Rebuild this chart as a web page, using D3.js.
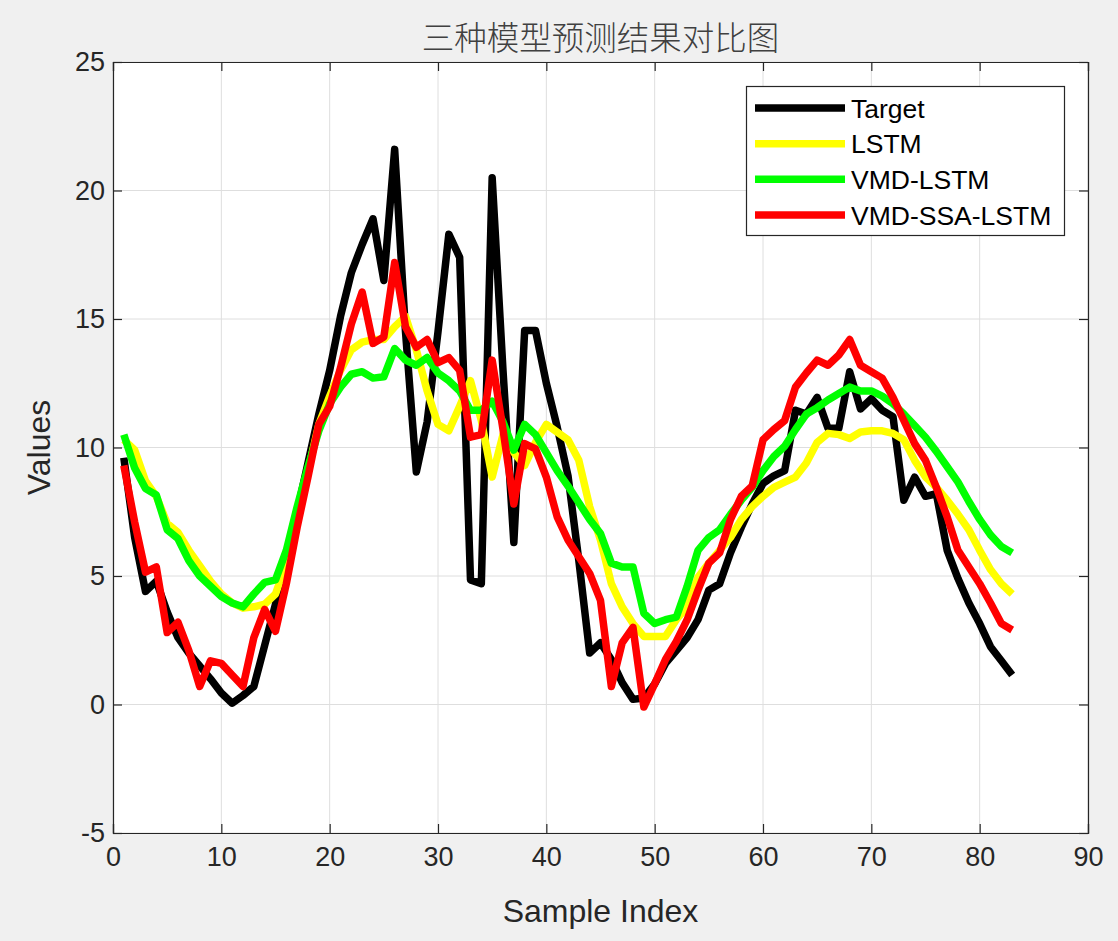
<!DOCTYPE html>
<html><head><meta charset="utf-8">
<script src="https://cdn.jsdelivr.net/npm/d3@7"></script>
<style>html,body{margin:0;padding:0;background:#f0f0f0;}svg{display:block;}</style>
</head><body>
<script>
const seriesNames = ["Target","LSTM","VMD-LSTM","VMD-SSA-LSTM"];
const seriesColors = ["#000000","#ffff00","#00ff00","#ff0000"];
const xTicks = [0,10,20,30,40,50,60,70,80,90];
const yTicks = [-5,0,5,10,15,20,25];
const title = "三种模型预测结果对比图";
const xLabel = "Sample Index";
const yLabel = "Values";

const target = [9.6,6.5,4.4,4.8,3.6,2.6,2.0,1.5,1.0,0.45,0.05,0.35,0.7,2.3,3.9,5.8,7.5,9.4,11.3,13.0,15.1,16.8,17.9,18.9,16.5,21.6,14.5,9.05,11.0,14.5,18.3,17.4,4.85,4.7,20.5,13.0,6.3,14.55,14.55,12.5,10.8,8.9,5.6,2.0,2.4,1.75,0.85,0.2,0.25,0.8,1.6,2.1,2.6,3.3,4.45,4.7,5.9,6.9,7.8,8.6,8.9,9.1,11.45,11.3,11.95,10.75,10.75,12.95,11.5,11.9,11.45,11.2,7.95,8.85,8.1,8.2,6.0,4.9,3.95,3.15,2.25,1.7,1.15];
const lstm = [10.3,9.9,8.7,8.1,7.05,6.7,6.0,5.4,4.8,4.3,3.95,3.75,3.8,3.9,4.3,5.5,7.3,9.1,10.9,12.0,13.0,13.8,14.1,14.2,14.2,14.7,15.1,13.8,12.2,10.9,10.65,11.6,12.6,11.05,8.85,10.5,9.8,9.3,10.2,10.9,10.6,10.3,9.5,7.7,6.4,4.7,3.8,3.15,2.65,2.65,2.65,3.3,3.8,4.95,5.5,6.0,6.5,7.2,7.7,8.1,8.45,8.65,8.85,9.4,10.2,10.55,10.5,10.35,10.6,10.65,10.65,10.55,10.3,9.5,8.85,8.45,7.95,7.4,6.8,6.0,5.25,4.7,4.3];
const vmdLstm = [10.5,9.2,8.4,8.15,6.8,6.45,5.6,5.0,4.6,4.2,3.95,3.8,4.3,4.75,4.85,6.0,7.7,9.25,10.65,11.7,12.35,12.85,12.95,12.7,12.75,13.85,13.4,13.2,13.5,12.9,12.6,12.2,11.45,11.45,11.8,11.0,9.9,10.9,10.5,9.8,9.1,8.5,7.85,7.2,6.65,5.5,5.35,5.35,3.55,3.15,3.3,3.4,4.6,6.0,6.5,6.8,7.4,7.95,8.45,9.1,9.65,10.05,10.7,11.3,11.55,11.85,12.1,12.35,12.2,12.2,12.0,11.7,11.3,10.85,10.4,9.85,9.25,8.65,7.9,7.2,6.6,6.15,5.9];
const vmdSsaLstm = [9.3,7.1,5.15,5.35,2.8,3.2,2.1,0.7,1.7,1.6,1.15,0.7,2.6,3.7,2.85,4.7,6.9,8.85,10.9,11.6,13.1,14.8,16.05,14.05,14.3,17.2,14.7,13.9,14.2,13.3,13.5,13.0,10.4,10.5,13.4,10.7,7.8,10.15,9.95,8.85,7.3,6.4,5.75,5.1,4.05,0.7,2.4,3.0,-0.1,0.8,1.75,2.45,3.3,4.45,5.5,5.9,7.2,8.1,8.5,10.3,10.7,11.05,12.35,12.9,13.4,13.2,13.6,14.2,13.2,12.95,12.7,11.95,11.05,10.15,9.5,8.45,7.3,6.0,5.35,4.7,3.95,3.15,2.9];
const seriesData = [target, lstm, vmdLstm, vmdSsaLstm];

const W = 1118, H = 941;
const m = {left:113, right:1088, top:62, bottom:833};
const svg = d3.select("body").append("svg").attr("width",W).attr("height",H);
svg.append("rect").attr("width",W).attr("height",H).attr("fill","#f0f0f0");

const x = d3.scaleLinear().domain([0,90]).range([m.left,m.right]);
const y = d3.scaleLinear().domain([-5,25]).range([m.bottom,m.top]);

svg.append("rect").attr("x",m.left).attr("y",m.top).attr("width",m.right-m.left).attr("height",m.bottom-m.top).attr("fill","#ffffff");

// grid
const grid = svg.append("g");
grid.selectAll(".gx").data(xTicks).join("line")
  .attr("x1",d=>x(d)).attr("x2",d=>x(d)).attr("y1",m.top).attr("y2",m.bottom)
  .attr("stroke","#dedede").attr("stroke-width",1);
grid.selectAll(".gy").data(yTicks).join("line")
  .attr("y1",d=>y(d)).attr("y2",d=>y(d)).attr("x1",m.left).attr("x2",m.right)
  .attr("stroke","#dedede").attr("stroke-width",1);

// lines
svg.append("clipPath").attr("id","clip").append("rect")
  .attr("x",m.left).attr("y",m.top).attr("width",m.right-m.left).attr("height",m.bottom-m.top);
const line = d3.line().x((d,i)=>x(i+1)).y(d=>y(d));
const lg = svg.append("g").attr("clip-path","url(#clip)");
seriesData.forEach((s,k)=>{
  lg.append("path").datum(s).attr("d",line).attr("fill","none")
    .attr("stroke",seriesColors[k]).attr("stroke-width",7.5)
    .attr("stroke-linejoin","round").attr("stroke-linecap","butt");
});

// axes
const axCol = "#262626";
const tickLen = 9;
const fontFam = "'Liberation Sans', Arial, Helvetica, sans-serif";
const xAxisB = d3.axisBottom(x).tickValues(xTicks).tickSize(-tickLen).tickPadding(14).tickFormat(d3.format("d"));
const xAxisT = d3.axisTop(x).tickValues(xTicks).tickSize(-tickLen).tickFormat("");
const yAxisL = d3.axisLeft(y).tickValues(yTicks).tickSize(-tickLen).tickPadding(8).tickFormat(d=>d<0?"-"+Math.abs(d):d);
const yAxisR = d3.axisRight(y).tickValues(yTicks).tickSize(-tickLen).tickFormat("");
function styleAxis(g){
  g.selectAll("path").attr("stroke",axCol).attr("stroke-width",1.2);
  g.selectAll("line").attr("stroke",axCol).attr("stroke-width",1.2);
  g.selectAll("text").attr("fill",axCol).style("font-family",fontFam).style("font-size","27px");
}
svg.append("g").attr("transform",`translate(0,${m.bottom})`).call(xAxisB).call(styleAxis);
svg.append("g").attr("transform",`translate(0,${m.top})`).call(xAxisT).call(styleAxis);
svg.append("g").attr("transform",`translate(${m.left},0)`).call(yAxisL).call(styleAxis);
svg.append("g").attr("transform",`translate(${m.right},0)`).call(yAxisR).call(styleAxis);

// labels
svg.append("text").attr("x",(m.left+m.right)/2).attr("y",922).attr("text-anchor","middle")
  .attr("fill",axCol).style("font-family",fontFam).style("font-size","32px").text(xLabel);
svg.append("text").attr("transform",`translate(50,${(m.top+m.bottom)/2}) rotate(-90)`).attr("text-anchor","middle")
  .attr("fill",axCol).style("font-family",fontFam).style("font-size","32px").text(yLabel);
svg.append("text").attr("x",(m.left+m.right)/2).attr("y",50).attr("text-anchor","middle")
  .attr("fill","#404040").style("font-family","'Noto Sans CJK SC', sans-serif").style("font-size","32.5px").style("font-weight","300").text(title);

// legend
const leg = svg.append("g");
leg.append("rect").attr("x",746.5).attr("y",86.5).attr("width",318).attr("height",149)
  .attr("fill","#ffffff").attr("stroke",axCol).attr("stroke-width",1.2);
const rowY = d3.scaleLinear().domain([0,3]).range([108,215]);
seriesNames.forEach((n,k)=>{
  leg.append("line").attr("x1",755).attr("x2",845).attr("y1",rowY(k)).attr("y2",rowY(k))
    .attr("stroke",seriesColors[k]).attr("stroke-width",7.5);
  leg.append("text").attr("x",851).attr("y",rowY(k)).attr("dy","0.36em")
    .attr("fill","#000").style("font-family",fontFam).style("font-size","26.5px").text(n);
});
</script>
</body></html>
